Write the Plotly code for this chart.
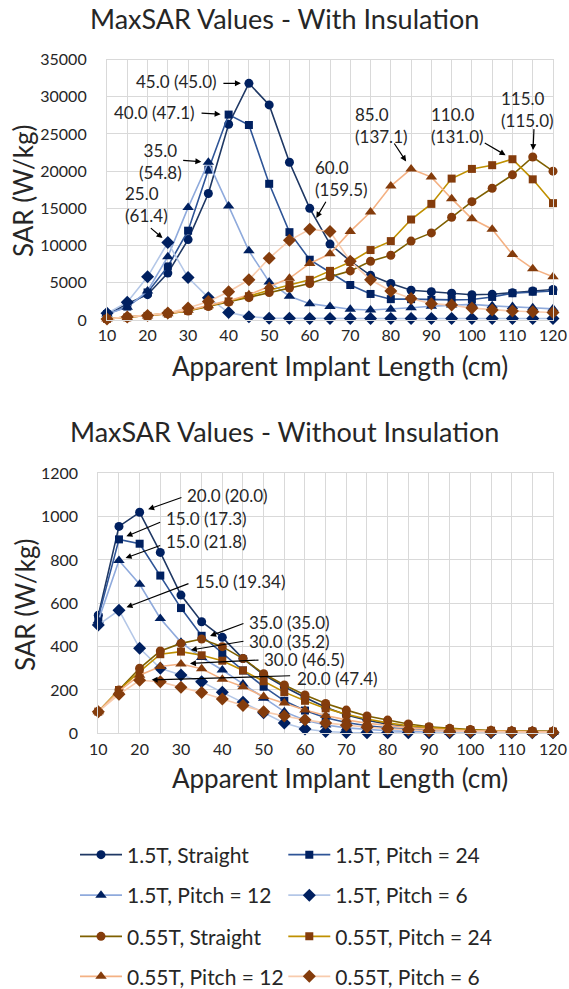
import plotly.graph_objects as go

# ---------------- data ----------------
lengths = [10, 15, 20, 25, 30, 35, 40, 45, 50, 55, 60, 65, 70, 75, 80, 85, 90, 95, 100, 105, 110, 115, 120]

series_names = ["1.5T, Straight", "1.5T, Pitch = 24", "1.5T, Pitch = 12", "1.5T, Pitch = 6",
                "0.55T, Straight", "0.55T, Pitch = 24", "0.55T, Pitch = 12", "0.55T, Pitch = 6"]

# With insulation (W/kg)
ins_15T_straight = [700, 2200, 3400, 6300, 10800, 17000, 26300, 31800, 28900, 21200, 15000, 10200, 7900, 6000, 4900, 4000, 3800, 3600, 3400, 3450, 3650, 3900, 4100]
ins_15T_p24 = [800, 1800, 3700, 7200, 12000, 20200, 27600, 26200, 18300, 11800, 8100, 6400, 4700, 3500, 2800, 2800, 2700, 2700, 2750, 3100, 3600, 3800, 3900]
ins_15T_p12 = [800, 1700, 3900, 8500, 15100, 21200, 15300, 9300, 5100, 3200, 2200, 1800, 1450, 1350, 1450, 1650, 1850, 2000, 2100, 1900, 1800, 1650, 1500]
ins_15T_p6 = [900, 2400, 5800, 10400, 5700, 3000, 1000, 450, 250, 220, 200, 200, 200, 200, 200, 200, 200, 200, 200, 200, 200, 200, 200]
ins_055T_straight = [150, 350, 550, 850, 1200, 1800, 2400, 3000, 3700, 4300, 4900, 5800, 6600, 7900, 8700, 10600, 11700, 13800, 15900, 17700, 19500, 21900, 20000]
ins_055T_p24 = [150, 350, 550, 850, 1250, 1900, 2500, 3200, 4000, 4700, 5400, 6600, 7800, 9400, 10600, 13500, 15600, 19000, 20300, 20800, 21600, 18900, 15700]
ins_055T_p12 = [150, 350, 550, 850, 1300, 1900, 2600, 3400, 4500, 5600, 7600, 8900, 11900, 14500, 18000, 20300, 19200, 16300, 13600, 12200, 8800, 6900, 5800]
ins_055T_p6 = [150, 400, 600, 950, 1600, 2500, 3800, 5400, 8300, 10700, 12200, 11900, 7900, 5400, 3900, 2900, 2200, 2000, 1600, 1350, 1200, 1100, 1000]

# Without insulation (W/kg)
bare_15T_straight = [545, 955, 1020, 835, 638, 515, 443, 345, 270, 215, 165, 120, 85, 60, 42, 30, 22, 17, 13, 11, 10, 9, 8]
bare_15T_p24 = [535, 895, 875, 728, 578, 450, 368, 290, 215, 150, 105, 72, 50, 35, 25, 18, 14, 11, 9, 8, 7, 6, 6]
bare_15T_p12 = [520, 798, 688, 530, 420, 350, 292, 228, 162, 100, 60, 38, 25, 17, 12, 9, 7, 6, 5, 5, 4, 4, 4]
bare_15T_p6 = [500, 568, 392, 300, 269, 238, 189, 143, 95, 48, 20, 8, 4, 2, 2, 2, 2, 2, 2, 2, 2, 2, 2]
bare_055T_straight = [100, 200, 300, 380, 415, 435, 400, 345, 275, 223, 177, 138, 107, 80, 61, 43, 30, 23, 17, 13, 11, 10, 9]
bare_055T_p24 = [100, 200, 285, 365, 377, 360, 335, 290, 240, 190, 150, 115, 88, 66, 48, 35, 26, 20, 15, 12, 10, 9, 8]
bare_055T_p12 = [100, 195, 268, 308, 320, 298, 250, 215, 170, 140, 108, 82, 62, 46, 35, 26, 20, 15, 12, 10, 9, 8, 7]
bare_055T_p6 = [100, 180, 245, 238, 212, 188, 158, 128, 100, 80, 62, 48, 37, 28, 21, 16, 12, 10, 8, 7, 6, 5, 5]

# peak labels: (series index, length at peak, label text)
ins_labels = [(0, 45, "45.0 (45.0)"), (1, 40, "40.0 (47.1)"), (2, 35, "35.0<br>(54.8)"), (3, 25, "25.0<br>(61.4)"),
              (4, 115, "115.0<br>(115.0)"), (5, 110, "110.0<br>(131.0)"), (6, 85, "85.0<br>(137.1)"), (7, 60, "60.0<br>(159.5)")]
bare_labels = [(0, 20, "20.0 (20.0)"), (1, 15, "15.0 (17.3)"), (2, 15, "15.0 (21.8)"), (3, 15, "15.0 (19.34)"),
               (4, 35, "35.0 (35.0)"), (5, 30, "30.0 (35.2)"), (6, 30, "30.0 (46.5)"), (7, 20, "20.0 (47.4)")]

# ---------------- styles ----------------
line_colors = ["#1F3864", "#2F5597", "#8FAADC", "#B4C7E7", "#7F6000", "#BF9000", "#F4B183", "#F8CBAD"]
marker_colors = ["#002060"] * 4 + ["#843C0C"] * 4
symbols = ["circle", "square", "triangle-up", "diamond"] * 2
msizes = [9, 8, 10, 10] * 2
legend_ids = ["legend"] + ["legend%d" % k for k in range(2, 9)]

FONT = "Lato, 'Open Sans', sans-serif"
TXT = "#262626"
W, H = 569, 989

ins_data = [ins_15T_straight, ins_15T_p24, ins_15T_p12, ins_15T_p6,
            ins_055T_straight, ins_055T_p24, ins_055T_p12, ins_055T_p6]
bare_data = [bare_15T_straight, bare_15T_p24, bare_15T_p12, bare_15T_p6,
             bare_055T_straight, bare_055T_p24, bare_055T_p12, bare_055T_p6]

fig = go.Figure()
for i, name in enumerate(series_names):
    for data, xa, ya, show in ((ins_data, "x", "y", True), (bare_data, "x2", "y2", False)):
        fig.add_trace(go.Scatter(
            x=lengths, y=data[i], name=name, mode="lines+markers",
            xaxis=xa, yaxis=ya, legendgroup=name, showlegend=show, legend=legend_ids[i],
            line=dict(color=line_colors[i], width=1.6),
            marker=dict(symbol=symbols[i], size=msizes[i], color=marker_colors[i],
                        line=dict(width=0)),
            cliponaxis=False,
        ))


def px2paper(px, py):
    return px / W, 1 - py / H


def axis_common():
    return dict(
        showgrid=True, gridcolor="#D9D9D9", gridwidth=1.2,
        showline=True, linecolor="#D9D9D9", linewidth=1.2, mirror=True,
        zeroline=False, ticks="", automargin=False,
        tickfont=dict(family=FONT, size=16, color=TXT),
    )


xcommon = axis_common()
xcommon.update(range=[10, 120], tick0=10, dtick=10,
               minor=dict(dtick=5, tick0=10, showgrid=True, gridcolor="#D9D9D9", gridwidth=1.2),
               ticklabelstandoff=1)

fig.update_layout(
    width=W, height=H, margin=dict(l=0, r=0, t=0, b=0, autoexpand=False),
    paper_bgcolor="white", plot_bgcolor="white",
    font=dict(family=FONT, color=TXT),
    xaxis=dict(**xcommon, domain=[107 / W, 553 / W], anchor="y"),
    yaxis=dict(**axis_common(), domain=[1 - 320 / H, 1 - 59.5 / H], anchor="x",
               range=[0, 35000], dtick=5000, tickformat="d", ticklabelstandoff=16),
    xaxis2=dict(**xcommon, domain=[98.3 / W, 553 / W], anchor="y2"),
    yaxis2=dict(**axis_common(), domain=[1 - 733.3 / H, 1 - 473.3 / H], anchor="x2",
                range=[0, 1200], dtick=200, tickformat="d", ticklabelstandoff=16),
    showlegend=True,
)

# legends: one per entry, 2 columns x 4 rows
col_x = [75, 283.3]
row_y = [855, 895.5, 936.7, 976.7]
for k, lid in enumerate(legend_ids):
    lx, ly = px2paper(col_x[k % 2], row_y[k // 2])
    fig.update_layout({lid: dict(
        orientation="h", x=lx, y=ly, xanchor="left", yanchor="middle",
        itemwidth=42, font=dict(family=FONT, size=21, color=TXT), bgcolor="rgba(0,0,0,0)",
        itemclick=False, itemdoubleclick=False,
    )})

# chart titles and axis titles
for txt, px, py, size, ang in (("MaxSAR Values - With Insulation", 284.5, 18, 27, 0),
                               ("MaxSAR Values - Without Insulation", 284.5, 431, 27, 0),
                               ("Apparent Implant Length (cm)", 340, 366, 26, 0),
                               ("Apparent Implant Length (cm)", 340, 778, 26, 0),
                               ("SAR (W/kg)", 23, 191, 26, -90),
                               ("SAR (W/kg)", 25, 605, 26, -90)):
    tx, ty = px2paper(px, py)
    fig.add_annotation(text=txt, x=tx, y=ty, xref="paper", yref="paper", showarrow=False,
                       textangle=ang, xanchor="center", yanchor="middle",
                       font=dict(family=FONT, size=size, color=TXT))

ANN_FONT = dict(family=FONT, size=17, color=TXT)

# label text boxes (pixel positions of left edge / vertical centre) and arrow tails relative to points
ins_text_pos = [(134, 81.7, "left"), (112, 112.7, "left"), (160, 161.4, "center"), (123, 204.7, "left"),
                (499, 110, "left"), (429, 125, "left"), (353, 125, "left"), (313, 178, "left")]
ins_arrows = [(-27, 0, 8), (-28.6, -1.5, 8), (-26.7, -2, 7), (-18.5, -15.7, 7),
              (1.3, -29.4, 7), (-29.2, -17.2, 8), (-17.8, -26.9, 9), (17, -29, 13)]
bare_text_pos = [(185, 495.7, "left"), (164, 518, "left"), (164, 541.7, "left"), (193.3, 581.7, "left"),
                 (246.7, 622.7, "left"), (246.7, 641, "left"), (261.7, 659, "left"), (295, 678.3, "left")]
bare_arrows = [(43.3, -15.3, 9), (42.7, -17.7, 8), (42.7, -15.4, 7), (71, -27.2, 8),
               (43.3, -16.1, 9), (64, -10.6, 10), (79, -4, 9), (152, -4.5, 12)]

for labels, data, tpos, arrs, xa, ya in ((ins_labels, ins_data, ins_text_pos, ins_arrows, "x", "y"),
                                         (bare_labels, bare_data, bare_text_pos, bare_arrows, "x2", "y2")):
    for (si, xl, txt), (tx, ty, al), (ax, ay, so) in zip(labels, tpos, arrs):
        px, py = px2paper(tx, ty)
        fig.add_annotation(text=txt, x=px, y=py, xref="paper", yref="paper", showarrow=False,
                           xanchor=al, yanchor="middle", align=al, font=ANN_FONT)
        yv = data[si][lengths.index(xl)]
        fig.add_annotation(text="", x=xl, y=yv, xref=xa, yref=ya, ax=ax, ay=ay,
                           axref="pixel", ayref="pixel", showarrow=True, arrowhead=2,
                           arrowsize=1, arrowwidth=1.2, arrowcolor="#000000", standoff=so)

fig.write_html("out.html")
